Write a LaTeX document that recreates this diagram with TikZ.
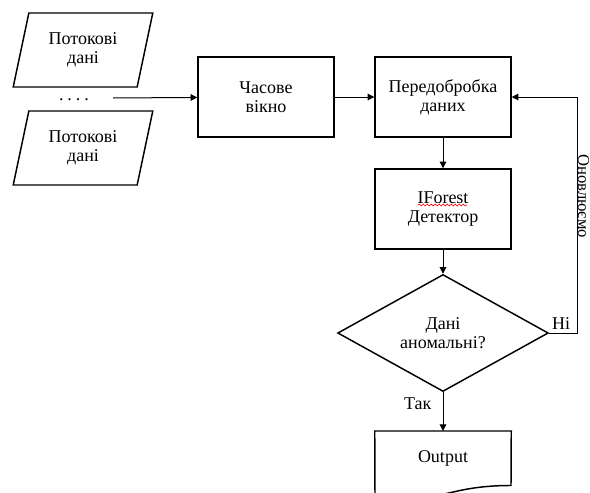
\documentclass[tikz,border=0pt]{standalone}
\usepackage{fontspec}
\setmainfont{Liberation Serif}
\newfontfamily\flowfont{Liberation Serif}
\usetikzlibrary{arrows.meta}
\usetikzlibrary{shapes.geometric}
\usetikzlibrary{decorations.pathmorphing}

\tikzset{
  every node/.style={font=\flowfont\fontsize{13.5}{14.5}\selectfont, align=center},
  databox/.style={draw, line width=1.1pt, trapezium, trapezium left angle=75.6,
    trapezium right angle=104.4, trapezium stretches=true,
    minimum width=105pt, minimum height=55.5pt},
  procbox/.style={draw, line width=1.1pt, minimum width=102pt, minimum height=60pt},
  decision/.style={draw, line width=1.1pt, diamond, minimum width=158pt,
    minimum height=77pt, inner sep=0pt},
  flow/.style={line width=0.75pt, -{Triangle[length=5pt,width=5pt]}},
}

\begin{document}
\begin{tikzpicture}[x=0.75pt,y=-0.75pt]
\useasboundingbox (0,0) rectangle (590,493);
\node[databox] (src1) at (83,50) {Потокові\\дані};
\node (dots) at (74,100) {.\hspace{3pt}.\hspace{3pt}.\hspace{3pt}.};
\node[databox] (src2) at (83,148) {Потокові\\дані};
\node[procbox] (window) at (266,97) {Часове\\вікно};
\node[procbox] (prep) at (443,97) {Передобробка\\даних};
\node[procbox] (detector) at (443,209) {IForest\\Детектор};
\node[decision] (check) at (443,333) {Дані\\аномальні?};
\node[anchor=north, minimum width=102pt, minimum height=40.5pt] (output) at (443,431) {Output};
\draw[line width=1.1pt] (output.north west) -- (output.north east) -- (511,485.5)
  .. controls (443,485.5) and (443,506) .. (375,494.5) -- cycle;
\draw[red, line width=0.5pt, decorate, decoration={snake, amplitude=0.7pt, segment length=3pt}]
  (418,205) -- (467,205);
\coordinate (in) at (113,98);
\coordinate (loop) at (577,97);
\draw[flow] (in) -- (window);
\draw[flow] (window) -- (prep);
\draw[flow] (prep) -- (detector);
\draw[flow] (detector) -- (check);
\draw[flow] (check) -- node[left=5pt, pos=0.3] {Так} (output);
\draw[flow] (check.east) node[above right, inner sep=2pt] {Ні}
  -| node[pos=0.79, rotate=-90, anchor=south, inner sep=0.3pt,
    font=\flowfont\fontsize{12.5}{13}\selectfont] {Оновлюємо} (loop) -- (prep);
\end{tikzpicture}
\end{document}
